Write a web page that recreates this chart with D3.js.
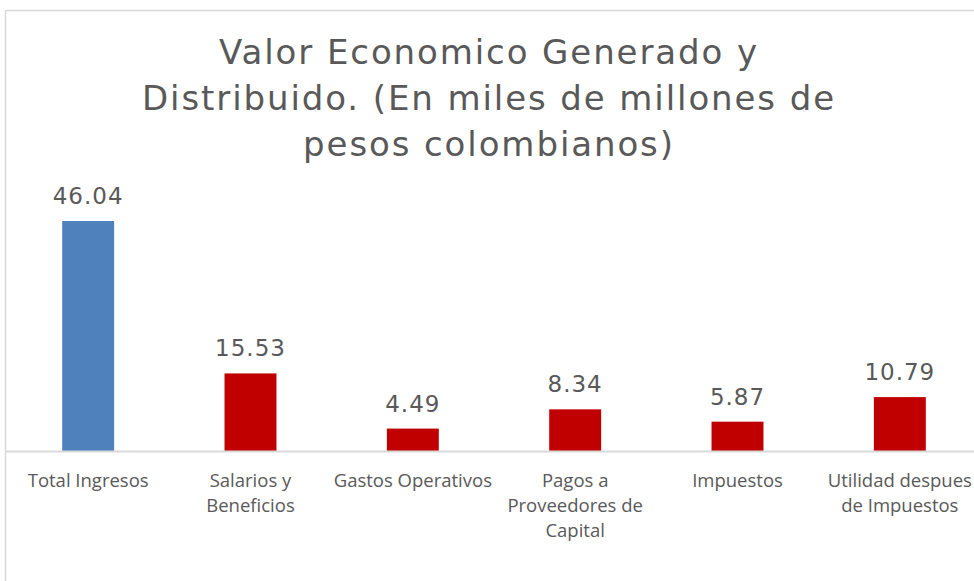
<!DOCTYPE html>
<html>
<head>
<meta charset="utf-8">
<title>Valor Economico Generado y Distribuido</title>
<script src="https://d3js.org/d3.v7.min.js"></script>
<style>
  body { margin: 0; background: white; }
</style>
</head>
<body>
<svg id="chart" width="974" height="581"></svg>
<script>
// data
var categories = [
  ["Total Ingresos"],
  ["Salarios y", "Beneficios"],
  ["Gastos Operativos"],
  ["Pagos a", "Proveedores de", "Capital"],
  ["Impuestos"],
  ["Utilidad despues", "de Impuestos"]
];
var values = [46.04, 15.53, 4.49, 8.34, 5.87, 10.79];
var barColors = ["#4f81bd", "#c00000", "#c00000", "#c00000", "#c00000", "#c00000"];
var titleLines = ["Valor Economico Generado y", "Distribuido. (En miles de millones de", "pesos colombianos)"];

var svg = d3.select("#chart");

// chart frame (top and left border, rest is cut off)
svg.append("line").attr("x1", 5.5).attr("x2", 974).attr("y1", 10.5).attr("y2", 10.5)
  .attr("stroke", "#d9d9d9").attr("stroke-width", 1.5);
svg.append("line").attr("x1", 5.5).attr("x2", 5.5).attr("y1", 10).attr("y2", 581)
  .attr("stroke", "#d9d9d9").attr("stroke-width", 1.5);

// title
svg.append("text")
  .attr("text-anchor", "middle")
  .style("font-family", "'DejaVu Sans'")
  .style("font-size", "34px")
  .style("letter-spacing", "1.9px")
  .style("fill", "#595959")
  .selectAll("tspan")
  .data(titleLines)
  .enter().append("tspan")
  .attr("x", 489)
  .attr("y", function(d, i) { return 64 + i * 46; })
  .text(function(d) { return d; });

var x = d3.scaleBand()
  .domain(d3.range(values.length))
  .range([7, 981])
  .paddingInner(0.68)
  .paddingOuter(0.34);

var y = d3.scaleLinear()
  .domain([0, 46.04])
  .range([451, 221]);

// bars
svg.append("g").selectAll("rect")
  .data(values)
  .enter().append("rect")
  .attr("x", function(d, i) { return x(i); })
  .attr("y", function(d) { return y(d); })
  .attr("width", x.bandwidth())
  .attr("height", function(d) { return y(0) - y(d); })
  .attr("fill", function(d, i) { return barColors[i]; });

// value labels
svg.append("g").selectAll("text")
  .data(values)
  .enter().append("text")
  .attr("x", function(d, i) { return x(i) + x.bandwidth() / 2; })
  .attr("y", function(d) { return y(d) - 17; })
  .attr("text-anchor", "middle")
  .style("font-family", "'DejaVu Sans'")
  .style("font-size", "23px")
  .style("letter-spacing", "1px")
  .style("fill", "#595959")
  .text(function(d) { return d.toFixed(2); });

// x axis baseline
svg.append("line").attr("x1", 5).attr("x2", 974).attr("y1", 451.5).attr("y2", 451.5)
  .attr("stroke", "#d9d9d9").attr("stroke-width", 2);

// category labels
var labels = svg.append("g").selectAll("text")
  .data(categories)
  .enter().append("text")
  .attr("text-anchor", "middle")
  .style("font-family", "'Open Sans'")
  .style("font-size", "18.5px")
  .style("fill", "#595959");

labels.selectAll("tspan")
  .data(function(d, i) { return d.map(function(t) { return { t: t, i: i }; }); })
  .enter().append("tspan")
  .attr("x", function(d) { return x(d.i) + x.bandwidth() / 2; })
  .attr("y", function(d, j) { return 487 + j * 25; })
  .text(function(d) { return d.t; });
</script>
</body>
</html>
